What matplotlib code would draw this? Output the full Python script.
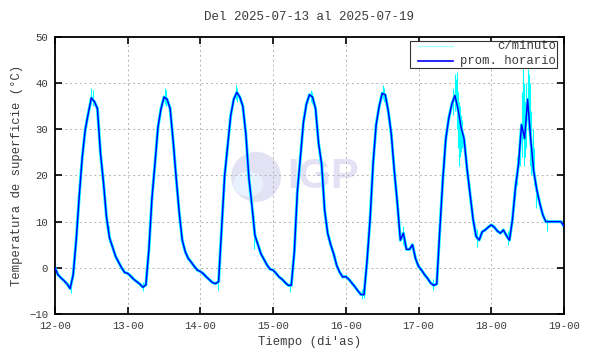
import matplotlib
matplotlib.use('Agg')
import matplotlib.pyplot as plt
from matplotlib.patches import Ellipse, Rectangle
import numpy as np

# promedio horario, una lista de 24 valores por dia (h00..h23)
dias = [12, 13, 14, 15, 16, 17, 18]
d12 = [0.0, -1.5, -2.2, -2.8, -3.5, -4.5, -1.5, 6.0, 15.5, 24.0, 30.0, 33.5,
       36.8, 36.0, 34.5, 25.0, 18.5, 11.0, 6.5, 4.5, 2.5, 1.2, 0.0, -1.0]
d13 = [-1.2, -1.8, -2.5, -3.0, -3.5, -4.2, -3.7, 4.0, 15.0, 22.6, 30.5, 34.5,
       37.0, 36.5, 34.5, 27.5, 19.5, 12.0, 6.0, 3.5, 2.0, 1.2, 0.3, -0.5]
d14 = [-0.8, -1.3, -2.0, -2.6, -3.2, -3.4, -3.0, 8.5, 20.0, 26.5, 33.0, 36.5,
       38.0, 37.0, 35.0, 29.0, 19.5, 13.5, 7.0, 5.0, 3.0, 1.8, 0.6, -0.3]
d15 = [-0.5, -1.2, -2.0, -2.5, -3.2, -3.8, -3.8, 3.5, 16.5, 24.0, 31.5, 35.5,
       37.5, 37.0, 34.5, 27.0, 22.5, 12.5, 7.5, 5.0, 3.0, 0.5, -1.0, -2.0]
d16 = [-1.9, -2.5, -3.3, -4.1, -5.0, -5.8, -5.8, 1.5, 10.5, 22.6, 31.0, 35.0,
       37.8, 37.5, 34.0, 29.0, 21.0, 14.0, 6.0, 7.5, 4.0, 4.0, 5.0, 2.0]
d17 = [0.3, -0.5, -1.5, -2.3, -3.3, -3.8, -3.5, 8.0, 19.0, 28.0, 32.5, 35.5,
       37.3, 34.5, 30.5, 28.0, 21.5, 16.0, 10.5, 6.8, 6.0, 7.8, 8.2, 8.8]
d18 = [9.3, 8.8, 8.0, 7.5, 8.2, 7.0, 6.0, 10.5, 17.5, 22.5, 31.0, 28.0,
       36.5, 28.0, 21.0, 17.0, 14.0, 11.5, 10.0, 10.0, 10.0, 10.0, 10.0, 10.0]
valor_final = 9.0   # 19-00

# picos de los datos por minuto (dia decimal, minimo, maximo)
pico_t = [12.22, 12.50, 12.52, 12.74, 13.21, 13.51, 13.53, 14.24, 14.49, 14.51,
          14.74, 15.23, 15.52, 15.54, 16.22, 16.25, 16.51, 16.53, 16.79,
          17.20, 17.48, 17.50, 17.51, 17.53, 17.545, 17.56, 17.57, 17.585,
          17.60, 17.80, 18.23, 18.36, 18.40, 18.42, 18.435, 18.45, 18.465,
          18.48, 18.50, 18.515, 18.53, 18.55, 18.57, 18.59, 18.62, 18.76,
          18.99]
pico_lo = [-5.5, 35.5, 35.0, 5.5, -5.0, 35.5, 35.0, -4.8, 36.5, 36.0,
           4.0, -5.2, 36.0, 35.5, -6.8, -6.5, 36.5, 36.0, 5.0,
           -4.8, 33.0, 34.0, 35.0, 30.0, 26.0, 22.0, 24.0, 25.0,
           26.0, 4.5, 5.0, 18.0, 22.0, 24.0, 28.0, 22.0, 24.0,
           26.0, 30.0, 30.0, 22.0, 20.0, 22.0, 18.0, 13.0, 8.0,
           8.0]
pico_hi = [-3.0, 39.0, 38.5, 9.0, -3.0, 39.0, 38.5, -2.5, 39.5, 39.0,
           7.0, -3.0, 38.5, 38.0, -4.5, -4.5, 39.7, 39.0, 9.0,
           -2.5, 39.0, 42.0, 41.0, 42.5, 38.0, 36.0, 35.0, 33.0,
           32.0, 8.5, 8.0, 24.0, 30.0, 38.0, 43.0, 40.0, 36.0,
           40.0, 43.0, 42.0, 40.0, 34.0, 30.0, 26.0, 17.0, 10.5,
           10.0]

horario = [d12, d13, d14, d15, d16, d17, d18]
t = []
v = []
for dia, vals in zip(dias, horario):
    for h, val in enumerate(vals):
        t.append(dia + h / 24)
        v.append(val)
t.append(19)
v.append(valor_final)
t = np.array(t)
v = np.array(v)

plt.rcParams['font.family'] = ['Liberation Mono', 'DejaVu Sans Mono']
txt = '#3a3a3a'

fig = plt.figure(figsize=(5.9, 3.54), dpi=100)
ax = fig.add_axes([0.0932, 0.1130, 0.8627, 0.7825])

# marca de agua IGP
ax.add_patch(Ellipse((0.395, 0.495), 0.098, 0.181, transform=ax.transAxes,
                     facecolor='#e2e2f4', edgecolor='none', zorder=0.3))
ax.add_patch(Ellipse((0.38, 0.47), 0.06, 0.09, transform=ax.transAxes,
                     facecolor='#e8f2ff', edgecolor='none', zorder=0.31))
ax.text(0.527, 0.495, 'IGP', transform=ax.transAxes, ha='center',
        va='center', fontsize=30, fontweight='bold', color='#e2e2f4',
        family='Liberation Sans', zorder=0.3)

# datos
ax.plot(t, v, color='cyan', lw=2.2, zorder=2, solid_joinstyle='round')
ax.vlines(pico_t, pico_lo, pico_hi, color='cyan', lw=0.8, zorder=2)
ax.plot(t, v, color='#0000ff', lw=1.1, zorder=3)

ax.set_xlim(12, 19)
ax.set_ylim(-10, 50)
ax.set_xticks(range(12, 20))
ax.set_xticklabels(['%d-00' % d for d in range(12, 20)])
ax.set_yticks(range(-10, 51, 10))

ax.grid(True, color='#b4b4b4', linestyle=(0, (2, 3)), lw=0.7)
ax.set_axisbelow(True)
ax.tick_params(direction='in', length=5, width=1.2, top=True, right=True,
               labelsize=7.7, labelcolor=txt, pad=5)
for s in ax.spines.values():
    s.set_linewidth(1.3)

ax.set_title('Del 2025-07-13 al 2025-07-19', fontsize=9, color=txt, pad=12)
ax.set_xlabel('Tiempo (di\'as)', fontsize=8.8, color=txt, labelpad=4)
ax.set_ylabel('Temperatura de superficie (°C)', fontsize=8.8, color=txt,
              labelpad=4)

# leyenda estilo gnuplot (texto alineado a la derecha)
ax.add_patch(Rectangle((0.697, 0.888), 0.289, 0.098, transform=ax.transAxes,
                       facecolor='white', edgecolor='#333333', lw=0.8,
                       zorder=4))
ax.plot([0.713, 0.782], [0.967, 0.967], transform=ax.transAxes,
        color='#aaffff', lw=1.0, zorder=5)
ax.plot([0.713, 0.782], [0.913, 0.913], transform=ax.transAxes,
        color='#0000ff', lw=1.2, zorder=5)
ax.text(0.984, 0.967, 'c/minuto', transform=ax.transAxes, ha='right',
        va='center', fontsize=8.8, color=txt, zorder=5)
ax.text(0.984, 0.913, 'prom. horario', transform=ax.transAxes, ha='right',
        va='center', fontsize=8.8, color=txt, zorder=5)

plt.savefig('out.png', dpi=100)
